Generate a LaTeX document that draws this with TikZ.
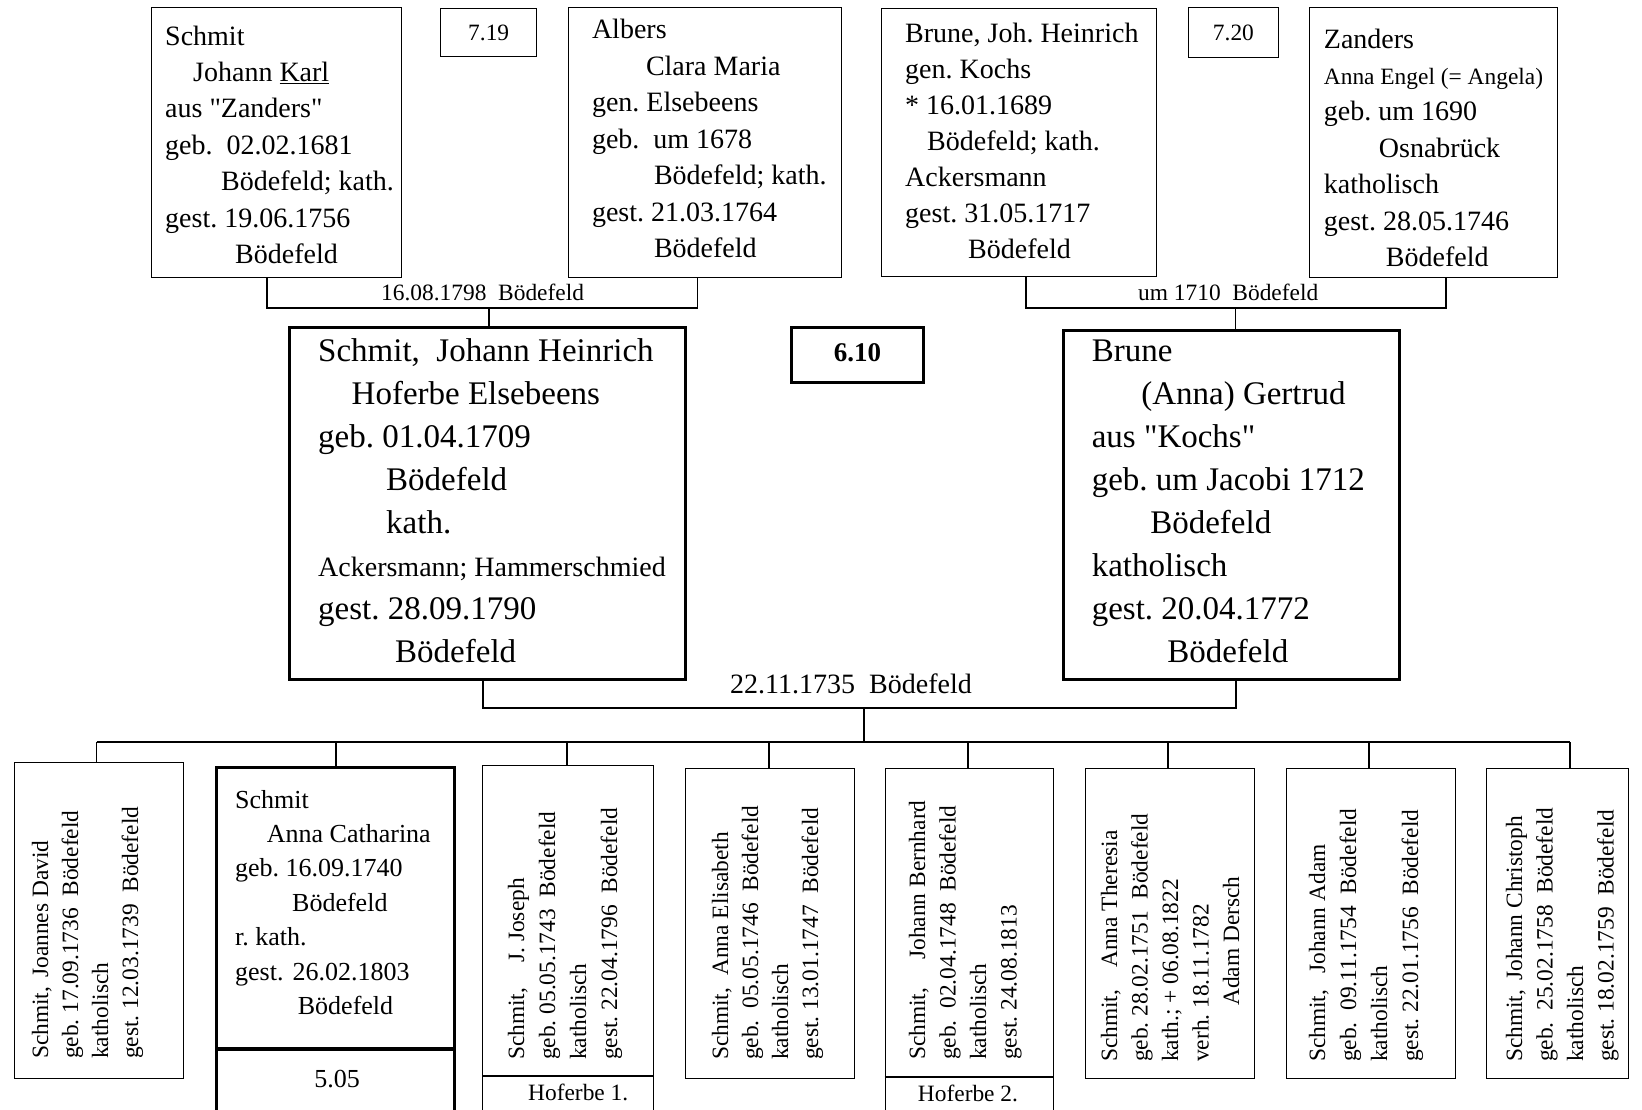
\documentclass[tikz,border=0pt]{standalone}
\usepackage{fontspec}
\setmainfont{Liberation Serif}
\usetikzlibrary{calc}
\frenchspacing

% straight double quotes, taken from fonts loaded without the TeX input mapping
\font\dqN="Liberation Serif" at 28pt
\font\dqL="Liberation Serif" at 33pt
\newcommand\qN{{\dqN\char34}}
\newcommand\qL{{\dqL\char34}}

% a box given by its top-left and bottom-right corners
\newcommand\famBox[6]{%
  \node[#1, minimum width={#5-#3}, minimum height={#6-#4}] (#2) at (#3,#4) {};}
% horizontal lines of text: style, x, first baseline, line step, lines
\newcommand\rowsH[5]{%
  \foreach \ln [count=\k from 0] in {#5}{\node[txt,#1] at (#2,{#3+\k*#4}) {\ln};}}
% vertical lines of text (read bottom to top): style, first baseline x, start y, step, lines
\newcommand\rowsV[5]{%
  \foreach \ln [count=\k from 0] in {#5}{\node[txt,rotate=90,#1] at ({#2+\k*#4},#3) {\ln};}}

\tikzset{
  thinbox/.style={draw, line width=1.4pt, inner sep=0, anchor=north west},
  thickbox/.style={draw, line width=3.2pt, inner sep=0, anchor=north west},
  link/.style={draw, line width=1.4pt, line join=miter},
  txt/.style={inner sep=0, anchor=base west},
  fN/.style={font=\fontsize{28}{34}\selectfont},
  fL/.style={font=\fontsize{33}{40}\selectfont},
  fS/.style={font=\fontsize{23.4}{28}\selectfont},
  fM/.style={font=\fontsize{26}{31}\selectfont},
}

\begin{document}
\begin{tikzpicture}[x=1pt,y=-1pt]
\useasboundingbox (0,0) rectangle (1642,1109);
\fill[white] (0,0) rectangle (1642,1109);
\clip (0,0) rectangle (1642,1109);

% ---------- grandparents ----------
\famBox{thinbox}{A}{151}{7}{401}{277}
\famBox{thinbox}{g719}{440}{8}{536}{56}
\famBox{thinbox}{B}{568}{7}{841}{277}
\famBox{thinbox}{C}{881}{8}{1156}{276}
\famBox{thinbox}{g720}{1187.5}{7}{1278}{57}
\famBox{thinbox}{D}{1309}{7}{1557}{277}

\node[txt,fS,anchor=base] (t719) at (g719.center |- 0,40) {7.19};
\node[txt,fS,anchor=base] (t720) at (g720.center |- 0,40) {7.20};

\rowsH{fN}{165}{45}{36.4}{Schmit,
  {\hspace*{28pt}Johann \underline{Karl}},
  aus \qN Zanders\qN,
  geb.~~02.02.1681,
  \hspace*{56pt}Bödefeld; kath.,
  gest. 19.06.1756,
  \hspace*{70pt}Bödefeld}

\rowsH{fN}{591.8}{38.5}{36.5}{Albers,
  \hspace*{54pt}Clara Maria,
  gen. Elsebeens,
  geb.~~um 1678,
  \hspace*{62pt}Bödefeld; kath.,
  gest. 21.03.1764,
  \hspace*{62pt}Bödefeld}

\rowsH{fN}{905}{42.5}{36}{{Brune, Joh. Heinrich},
  gen. Kochs,
  * 16.01.1689,
  \hspace*{22pt}Bödefeld; kath.,
  Ackersmann,
  gest. 31.05.1717,
  \hspace*{63pt}Bödefeld}

\rowsH{fN}{1323.7}{48}{36.4}{Zanders,
  {\fontsize{23.4}{28}\selectfont Anna Engel (= Angela)},
  geb. um 1690,
  \hspace*{55pt}Osnabrück,
  katholisch,
  gest. 28.05.1746,
  \hspace*{62pt}Bödefeld}

% ---------- parents ----------
\famBox{thickbox}{E}{288}{326}{684}{678}
\famBox{thickbox}{g610}{790}{326}{922}{381}
\famBox{thickbox}{F}{1062}{329}{1398}{678}

\node[txt,anchor=base,font=\fontsize{27}{32}\selectfont\bfseries] (t610) at (g610.center |- 0,361.5) {6.10};

\rowsH{fL}{318}{361.5}{43}{{Schmit,~~Johann Heinrich},
  \hspace*{33.5pt}Hoferbe Elsebeens,
  geb. 01.04.1709,
  \hspace*{68pt}Bödefeld,
  \hspace*{68pt}kath.,
  {\fontsize{28}{34}\selectfont Ackersmann; Hammerschmied},
  gest. 28.09.1790,
  \hspace*{77pt}Bödefeld}

\rowsH{fL}{1091.6}{361.5}{43}{Brune,
  \hspace*{49.5pt}(Anna) Gertrud,
  aus \qL Kochs\qL,
  geb. um Jacobi 1712,
  \hspace*{58.5pt}Bödefeld,
  katholisch,
  gest. 20.04.1772,
  \hspace*{75.5pt}Bödefeld}

% ---------- marriage connectors ----------
\coordinate (jA) at (267,308);
\coordinate (jB) at (697.5,308);
\coordinate (jAB) at (489,308);
\draw[link] (A.south -| jA) -- (jA) -- (jB) -- (B.south -| jB);
\draw[link] (jAB) -- (E.north -| jAB);
\node[txt,fS] (mAB) at (381,300) {16.08.1798~~Bödefeld};

\coordinate (jC) at (1026,308);
\coordinate (jD) at (1446,308);
\coordinate (jCD) at (1235.5,308);
\draw[link] (C.south -| jC) -- (jC) -- (jD) -- (D.south -| jD);
\draw[link] (jCD) -- (F.north -| jCD);
\node[txt,fS] (mCD) at (1138,300) {um 1710~~Bödefeld};

\coordinate (jE) at (483,708);
\coordinate (jF) at (1236,708);
\coordinate (jEF) at (864,708);
\draw[link] (E.south -| jE) -- (jE) -- (jF) -- (F.south -| jF);
\node[txt,fN] (mEF) at (730,693) {22.11.1735~~Bödefeld};

% ---------- children ----------
\famBox{thinbox}{K1}{13.7}{762}{183}{1078}
\famBox{thickbox}{K2}{215}{766}{453}{1125}
\famBox{thinbox}{K3}{482}{765}{652.5}{1125}
\famBox{thinbox}{K4}{685}{768}{853.5}{1078}
\famBox{thinbox}{K5}{884.5}{768}{1052.5}{1125}
\famBox{thinbox}{K6}{1084.5}{768}{1254}{1078}
\famBox{thinbox}{K7}{1286}{768}{1454.5}{1078}
\famBox{thinbox}{K8}{1486}{768}{1628}{1078}

\coordinate (sib) at (864,742);
\coordinate (sibL) at (96.7,742);
\coordinate (sibR) at (1570,742);
\draw[link] (jEF) -- (sib);
\draw[link] (sibL) -- (sibR);
\draw[link] (sibL) -- (K1.north -| sibL);
\foreach \kid/\cx in {K2/336,K3/567,K4/769,K5/968,K6/1168,K7/1369}{
  \coordinate (\kid-top) at (\cx,742);
  \draw[link] (\kid-top) -- (\kid.north -| \kid-top);
}
\draw[link] (sibR) -- (K8.north -| sibR);

% dividers and notes under the children
\coordinate (d2) at (0,1049);
\coordinate (d3) at (0,1076);
\coordinate (d5) at (0,1077);
\draw[line width=3.2pt] (K2.west |- d2) -- (K2.east |- d2);
\draw[link] (K3.west |- d3) -- (K3.east |- d3);
\draw[link] (K5.west |- d5) -- (K5.east |- d5);
\node[txt,fM,anchor=base] (n505) at (337,1087) {5.05};
\node[txt,fS] (h1) at (528,1100) {Hoferbe 1.};
\node[txt,fS,anchor=base] (h2) at (968,1101.5) {Hoferbe 2.};

\rowsH{fM}{235}{808}{34.4}{Schmit,
  \hspace*{31.7pt}Anna Catharina,
  geb. 16.09.1740,
  \hspace*{57pt}Bödefeld,
  r. kath.,
  gest.\hspace{9pt}26.02.1803,
  \hspace*{62.7pt}Bödefeld}

\rowsV{fS}{48}{1059}{30}{{Schmit,\hspace{9pt}Joannes David},
  geb. 17.09.1736~~Bödefeld,
  katholisch,
  gest. 12.03.1739~~Bödefeld}

\rowsV{fS}{524}{1060}{31}{{Schmit,\hspace{25pt}J. Joseph},
  geb. 05.05.1743~~Bödefeld,
  katholisch,
  gest. 22.04.1796~~Bödefeld}

\rowsV{fS}{728}{1060}{30}{{Schmit,\hspace{12pt}Anna Elisabeth},
  geb.~~05.05.1746~~Bödefeld,
  katholisch,
  gest. 13.01.1747~~Bödefeld}

\rowsV{fS}{925}{1060}{30.5}{{Schmit,\hspace{28pt}Johann Bernhard},
  geb.~~02.04.1748~~Bödefeld,
  katholisch,
  gest. 24.08.1813}

\rowsV{fS}{1117}{1062}{30.5}{{Schmit,\hspace{22pt}Anna Theresia},
  geb. 28.02.1751~~Bödefeld,
  kath.; + 06.08.1822,
  verh. 18.11.1782,
  \hspace*{56pt}Adam Dersch}

\rowsV{fS}{1325}{1062}{31}{{Schmit,\hspace{16pt}Johann Adam},
  geb.~~09.11.1754~~Bödefeld,
  katholisch,
  gest. 22.01.1756~~Bödefeld}

\rowsV{fS}{1522}{1062}{30.5}{{Schmit,\hspace{9pt}Johann Christoph},
  geb.~~25.02.1758~~Bödefeld,
  katholisch,
  gest. 18.02.1759~~Bödefeld}
\end{tikzpicture}
\end{document}
